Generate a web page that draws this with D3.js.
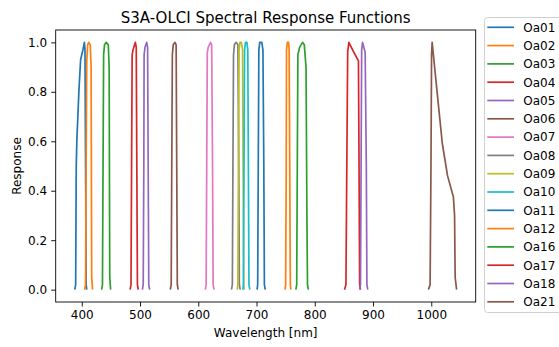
<!DOCTYPE html>
<html>
<head>
<meta charset="utf-8">
<script src="https://cdn.jsdelivr.net/npm/d3@7"></script>
<style>
  body { margin: 0; background: #fff; }
  svg { display: block; font-family: "DejaVu Sans", sans-serif; }
</style>
</head>
<body>
<svg id="chart"></svg>
<script>
// band names, in legend order
var bandNames = ["Oa01", "Oa02", "Oa03", "Oa04", "Oa05", "Oa06", "Oa07", "Oa08",
                 "Oa09", "Oa10", "Oa11", "Oa12", "Oa16", "Oa17", "Oa18", "Oa21"];

// [wavelength nm, response]
var oa01 = [[388,0],[389.5,0.02],[390.5,0.5],[391.5,0.6],[395,0.8],[398,0.93],[402,0.97],[404.5,1.0],[405.5,0.97],[406.5,0.5],[407.5,0.02],[408.5,0]];
var oa02 = [[405,0],[406.5,0.02],[407.5,0.5],[408.5,0.92],[410,0.99],[412,1.0],[414.5,0.99],[416,0.9],[417,0.05],[418.5,0]];
var oa03 = [[434,0],[435.5,0.02],[436.5,0.5],[437.5,0.95],[439,0.99],[442,1.0],[445.5,0.99],[447,0.9],[448,0.05],[449.5,0]];
var oa04 = [[483,0],[484.5,0.02],[485.5,0.5],[486.5,0.95],[488,0.97],[492,1.0],[493.5,0.98],[494.5,0.5],[495.5,0.02],[497,0]];
var oa05 = [[504,0],[505.5,0.02],[506.5,0.5],[507,0.95],[508.5,0.98],[511.5,1.0],[513,0.98],[514,0.5],[515,0.02],[516.5,0]];
var oa06 = [[552,0],[553.5,0.02],[554.5,0.5],[555.5,0.95],[557,0.99],[560,1.0],[562,0.99],[563,0.5],[564,0.02],[565.5,0]];
var oa07 = [[612,0],[613.5,0.02],[614.5,0.5],[615.5,0.96],[617,0.98],[621,1.0],[623,0.99],[624.5,0.5],[625.5,0.02],[627,0]];
var oa08 = [[657,0],[658.5,0.02],[659.5,0.5],[660.5,0.95],[662,0.99],[665,1.0],[668,0.99],[669.5,0.5],[670.5,0.02],[672,0]];
var oa09 = [[667,0],[668,0.02],[669,0.5],[670,0.97],[671.5,1.0],[674,1.0],[676,0.97],[677,0.5],[678,0.02],[679,0]];
var oa10 = [[676.5,0],[677.5,0.02],[678.5,0.5],[679.5,0.97],[681,1.0],[683.5,1.0],[685,0.97],[686,0.5],[687,0.02],[688.5,0]];
var oa11 = [[701,0],[702,0.02],[703,0.5],[704,0.97],[705.5,1.0],[709,1.0],[711,0.97],[712.5,0.5],[713.5,0.02],[715,0]];
var oa12 = [[749,0],[750,0.02],[751,0.5],[751.5,0.97],[753,1.0],[755,1.0],[756,0.97],[757,0.5],[758,0.02],[759,0]];
var oa16 = [[767.5,0],[769,0.02],[770,0.5],[771,0.95],[774,0.98],[779,1.0],[782,0.99],[785,0.9],[786.5,0.3],[787.5,0.02],[789,0]];
var oa17 = [[851,0],[853.5,0.02],[855,0.5],[856.5,0.96],[858.5,1.0],[866,0.965],[875,0.925],[876,0.5],[877,0.02],[878.5,0]];
var oa18 = [[877,0],[878.5,0.02],[879.5,0.5],[880.5,0.97],[882,1.0],[886.5,0.96],[888.5,0.5],[889.5,0.02],[891,0]];
var oa21 = [[995,0],[998,0.02],[999.5,0.5],[1000.5,0.95],[1001.5,1.0],[1010,0.8],[1019,0.59],[1028,0.46],[1038,0.375],[1040,0.3],[1041,0.05],[1043.5,0]];

var xTicks = [400, 500, 600, 700, 800, 900, 1000];
var yTicks = [0, 0.2, 0.4, 0.6, 0.8, 1.0];

var bands = [oa01, oa02, oa03, oa04, oa05, oa06, oa07, oa08, oa09, oa10, oa11, oa12, oa16, oa17, oa18, oa21];

var width = 559, height = 347;
var margin = { top: 30, right: 83.3, bottom: 45, left: 55.7 };

var colors = d3.scaleOrdinal(d3.schemeCategory10);

var svg = d3.select("#chart")
    .attr("width", width)
    .attr("height", height);

// x domain padded by 5% like matplotlib
var allW = bands.flat().map(function(p) { return p[0]; });
var wMin = d3.min(allW), wMax = d3.max(allW);
var pad = (wMax - wMin) * 0.05;

var x = d3.scaleLinear()
    .domain([wMin - pad, wMax + pad])
    .range([margin.left, width - margin.right]);

var y = d3.scaleLinear()
    .domain([-0.05, 1.05])
    .range([height - margin.bottom, margin.top]);

var line = d3.line()
    .x(function(d) { return x(d[0]); })
    .y(function(d) { return y(d[1]); });

// curves
svg.append("g").selectAll("path")
    .data(bands)
    .enter()
    .append("path")
    .attr("d", line)
    .attr("fill", "none")
    .attr("stroke", function(d, i) { return colors(i % 10); })
    .attr("stroke-width", 1.7)
    .attr("stroke-linejoin", "round");

// axes
var xAxis = svg.append("g")
    .attr("transform", "translate(0," + (height - margin.bottom) + ")")
    .call(d3.axisBottom(x).tickValues(xTicks).tickSize(4.5).tickPadding(4).tickFormat(d3.format("d")));

var yAxis = svg.append("g")
    .attr("transform", "translate(" + margin.left + ",0)")
    .call(d3.axisLeft(y).tickValues(yTicks).tickSize(4.5).tickPadding(4).tickFormat(d3.format(".1f")));

[xAxis, yAxis].forEach(function(g) {
    g.select(".domain").remove();
    g.selectAll("text").attr("font-size", 12).attr("fill", "#000").attr("font-family", "DejaVu Sans");
    g.selectAll("line").attr("stroke", "#000").attr("stroke-width", 0.9);
});

// frame
svg.append("rect")
    .attr("x", margin.left)
    .attr("y", margin.top)
    .attr("width", width - margin.right - margin.left)
    .attr("height", height - margin.bottom - margin.top)
    .attr("fill", "none")
    .attr("stroke", "#000")
    .attr("stroke-width", 0.9);

// title and axis labels
svg.append("text")
    .attr("x", (margin.left + width - margin.right) / 2)
    .attr("y", 23)
    .attr("text-anchor", "middle")
    .attr("font-size", 15)
    .text("S3A-OLCI Spectral Response Functions");

svg.append("text")
    .attr("x", (margin.left + width - margin.right) / 2)
    .attr("y", 337)
    .attr("text-anchor", "middle")
    .attr("font-size", 12)
    .text("Wavelength [nm]");

svg.append("text")
    .attr("transform", "rotate(-90)")
    .attr("x", -(margin.top + height - margin.bottom) / 2)
    .attr("y", 21)
    .attr("text-anchor", "middle")
    .attr("font-size", 12)
    .text("Response");

// legend, sitting outside the axes and running off the right edge
var legend = svg.append("g").attr("transform", "translate(484,17)");

legend.append("rect")
    .attr("x", 0.5)
    .attr("y", 0.5)
    .attr("width", 90)
    .attr("height", 295)
    .attr("rx", 3)
    .attr("fill", "#fff")
    .attr("fill-opacity", 0.8)
    .attr("stroke", "#d0d0d0")
    .attr("stroke-width", 1);

var items = legend.selectAll("g.item")
    .data(bandNames)
    .enter()
    .append("g")
    .attr("class", "item")
    .attr("transform", function(d, i) { return "translate(0," + (10.3 + i * 18.3) + ")"; });

items.append("line")
    .attr("x1", 3.3)
    .attr("x2", 30)
    .attr("stroke", function(d, i) { return colors(i % 10); })
    .attr("stroke-width", 1.7);

items.append("text")
    .attr("x", 39.3)
    .attr("dy", "0.36em")
    .attr("font-size", 12)
    .text(function(d) { return d; });
</script>
</body>
</html>
